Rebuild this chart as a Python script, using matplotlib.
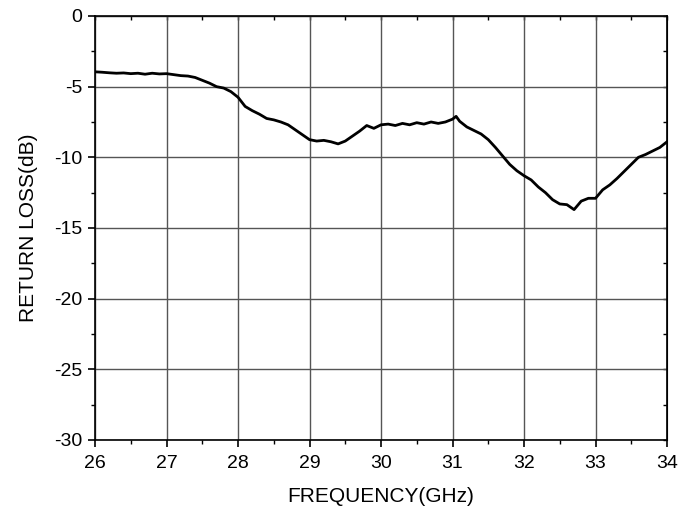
import numpy as np
import matplotlib
matplotlib.use("Agg")
import matplotlib.pyplot as plt
from matplotlib.ticker import MultipleLocator, NullFormatter

# frequency (GHz) and return loss (dB)
freq = [26.0, 26.1, 26.2, 26.3, 26.4, 26.5, 26.6, 26.7, 26.8, 26.9,
        27.0, 27.1, 27.2, 27.3, 27.4, 27.5, 27.6, 27.7, 27.8, 27.9,
        28.0, 28.1, 28.2, 28.3, 28.4, 28.5, 28.6, 28.7, 28.8, 28.9,
        29.0, 29.1, 29.2, 29.3, 29.4, 29.5, 29.6, 29.7, 29.8, 29.9,
        30.0, 30.1, 30.2, 30.3, 30.4, 30.5, 30.6, 30.7, 30.8, 30.9,
        31.0, 31.05, 31.1, 31.2, 31.3, 31.4, 31.5, 31.6, 31.7, 31.8, 31.9,
        32.0, 32.1, 32.2, 32.3, 32.4, 32.5, 32.6, 32.7, 32.8, 32.9,
        33.0, 33.1, 33.2, 33.3, 33.4, 33.5, 33.6, 33.7, 33.8, 33.9, 34.0]
rl = [-3.95, -3.98, -4.02, -4.05, -4.03, -4.08, -4.05, -4.12, -4.05, -4.10,
      -4.08, -4.15, -4.22, -4.25, -4.35, -4.55, -4.75, -5.00, -5.10, -5.35,
      -5.75, -6.40, -6.70, -6.95, -7.25, -7.35, -7.50, -7.70, -8.05, -8.40,
      -8.75, -8.85, -8.80, -8.90, -9.05, -8.85, -8.50, -8.15, -7.75, -7.95,
      -7.70, -7.65, -7.75, -7.60, -7.70, -7.55, -7.65, -7.50, -7.60, -7.50,
      -7.30, -7.10, -7.45, -7.85, -8.10, -8.35, -8.75, -9.30, -9.90, -10.50, -10.95,
      -11.30, -11.60, -12.10, -12.50, -13.00, -13.30, -13.35, -13.70, -13.10, -12.90,
      -12.90, -12.30, -11.95, -11.50, -11.00, -10.50, -10.00, -9.80, -9.55, -9.30, -8.90]

plt.rcParams["font.family"] = ["Liberation Sans", "DejaVu Sans"]
plt.rcParams["axes.unicode_minus"] = False

fig = plt.figure(figsize=(6.92, 5.14), dpi=100)
ax = fig.add_axes([0.1373, 0.144, 0.8266, 0.8249])

ax.plot(freq, rl, color="black", linewidth=2.0)

ax.set_xlim(26, 34)
ax.set_ylim(-30, 0)
ax.xaxis.set_major_locator(MultipleLocator(1))
ax.xaxis.set_minor_locator(MultipleLocator(0.5))
ax.yaxis.set_major_locator(MultipleLocator(5))
ax.yaxis.set_minor_locator(MultipleLocator(2.5))

ax.grid(True, which="major", color="#555555", linewidth=1.0)
ax.tick_params(which="major", direction="out", length=5, width=1.2, labelsize=14)
ax.tick_params(which="minor", direction="out", length=2.8, width=1.0)
ax.tick_params(axis="x", which="major", pad=6)
ax.tick_params(axis="y", which="major", pad=4)
for s in ax.spines.values():
    s.set_linewidth(1.2)

# inward ticks on the top and right edges
top = ax.secondary_xaxis("top")
top.xaxis.set_major_locator(MultipleLocator(1))
top.xaxis.set_minor_locator(MultipleLocator(0.5))
top.xaxis.set_major_formatter(NullFormatter())
top.tick_params(which="both", direction="in", length=3, width=1.0)
right = ax.secondary_yaxis("right")
right.yaxis.set_major_locator(MultipleLocator(5))
right.yaxis.set_minor_locator(MultipleLocator(2.5))
right.yaxis.set_major_formatter(NullFormatter())
right.tick_params(which="both", direction="in", length=3, width=1.0)

ax.set_xlabel("FREQUENCY(GHz)", fontsize=15)
ax.set_ylabel("RETURN LOSS(dB)", fontsize=15)
ax.xaxis.set_label_coords(0.5, -0.111)
ax.yaxis.set_label_coords(-0.099, 0.5)

plt.savefig("out.png", dpi=100)
